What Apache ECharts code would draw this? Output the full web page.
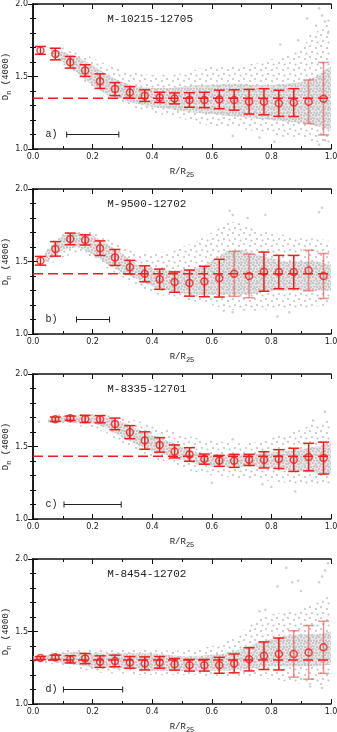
<!DOCTYPE html>
<html>
<head>
<meta charset="utf-8">
<script src="https://cdn.jsdelivr.net/npm/echarts@6.0.0/dist/echarts.min.js"></script>
<style>
  html, body { margin: 0; padding: 0; background: #fff; }
  #chart { width: 337px; height: 732px; }
</style>
</head>
<body>
<div id="chart"></div>
<script>
// ---- data ----
var panelNames = ['M-10215-12705', 'M-9500-12702', 'M-8335-12701', 'M-8454-12702'];
var panelLetters = ['a)', 'b)', 'c)', 'd)'];

// binned profiles (R/R25, Dn(4000), error)
var binsA = [0.025,0.075,0.125,0.175,0.225,0.275,0.325,0.375,0.425,0.475,0.525,0.575,0.625,0.675,0.725,0.775,0.825,0.875,0.925,0.975];
var valsA = [1.68,1.655,1.598,1.541,1.468,1.413,1.39,1.368,1.356,1.349,1.338,1.338,1.342,1.338,1.326,1.326,1.315,1.32,1.326,1.347];
var errsA = [0.027,0.04,0.04,0.04,0.05,0.045,0.04,0.04,0.035,0.038,0.05,0.053,0.064,0.07,0.085,0.09,0.09,0.096,0.15,0.25];

var binsB = binsA;
var valsB = [1.505,1.587,1.656,1.649,1.592,1.528,1.461,1.415,1.378,1.358,1.351,1.362,1.385,1.415,1.40,1.43,1.427,1.427,1.438,1.40];
var errsB = [0.03,0.05,0.04,0.035,0.05,0.055,0.047,0.055,0.07,0.07,0.09,0.105,0.13,0.155,0.15,0.135,0.115,0.115,0.14,0.155];

var binsC = [0.075,0.125,0.175,0.225,0.275,0.325,0.375,0.425,0.475,0.525,0.575,0.625,0.675,0.725,0.775,0.825,0.875,0.925,0.975];
var valsC = [1.688,1.695,1.69,1.688,1.656,1.599,1.541,1.511,1.466,1.445,1.413,1.401,1.401,1.408,1.408,1.413,1.408,1.427,1.42];
var errsC = [0.015,0.015,0.025,0.025,0.04,0.045,0.06,0.05,0.045,0.047,0.035,0.038,0.045,0.038,0.056,0.065,0.08,0.095,0.11];

var binsD = binsA;
var valsD = [1.317,1.322,1.308,1.313,1.292,1.297,1.287,1.28,1.287,1.274,1.267,1.267,1.267,1.28,1.308,1.333,1.345,1.345,1.356,1.391];
var errsD = [0.01,0.015,0.025,0.035,0.04,0.04,0.04,0.045,0.04,0.04,0.04,0.04,0.055,0.065,0.08,0.095,0.11,0.16,0.185,0.18];

// reference levels (dashed lines)
var refLevels = [1.35, 1.415, 1.433, 1.303];

// scale bars: [start, end, level]
var scaleBars = [[0.113, 0.288, 1.10], [0.146, 0.257, 1.10], [0.104, 0.296, 1.10], [0.102, 0.301, 1.10]];

// pixel clouds: outer (sparse) and inner (dense) envelopes
var cloudXA = [0.06,0.1,0.15,0.2,0.25,0.3,0.35,0.4,0.45,0.5,0.55,0.6,0.65,0.7,0.75,0.8,0.85,0.9,0.95,1.0];
var outerLoA = [1.65,1.58,1.50,1.42,1.35,1.31,1.28,1.25,1.23,1.21,1.18,1.16,1.15,1.14,1.12,1.10,1.08,1.07,1.05,1.04];
var outerHiA = [1.70,1.70,1.67,1.63,1.58,1.55,1.52,1.51,1.51,1.52,1.55,1.57,1.57,1.58,1.59,1.62,1.64,1.70,1.80,1.95];
var innerLoA = [1.66,1.60,1.52,1.44,1.37,1.34,1.31,1.29,1.28,1.26,1.25,1.24,1.23,1.22,1.21,1.20,1.19,1.18,1.16,1.13];
var innerHiA = [1.69,1.67,1.635,1.58,1.51,1.46,1.43,1.42,1.42,1.43,1.44,1.44,1.45,1.45,1.44,1.44,1.45,1.46,1.50,1.57];

var cloudXB = [0.04,0.1,0.15,0.2,0.25,0.3,0.35,0.4,0.45,0.5,0.55,0.6,0.65,0.7,0.75,0.8,0.85,0.9,0.95,1.0];
var outerLoB = [1.46,1.53,1.56,1.52,1.45,1.39,1.33,1.28,1.26,1.24,1.22,1.20,1.17,1.16,1.16,1.17,1.17,1.18,1.19,1.20];
var outerHiB = [1.60,1.70,1.72,1.71,1.66,1.60,1.56,1.55,1.57,1.60,1.64,1.70,1.78,1.76,1.72,1.70,1.68,1.66,1.66,1.64];
var innerLoB = [1.49,1.58,1.60,1.55,1.48,1.42,1.38,1.33,1.30,1.28,1.27,1.27,1.27,1.27,1.28,1.30,1.30,1.30,1.30,1.30];
var innerHiB = [1.56,1.68,1.70,1.68,1.62,1.55,1.48,1.45,1.44,1.44,1.45,1.50,1.57,1.58,1.55,1.52,1.50,1.50,1.50,1.48];

var cloudXC = [0.05,0.1,0.15,0.2,0.25,0.3,0.35,0.4,0.45,0.5,0.55,0.6,0.65,0.7,0.75,0.8,0.85,0.9,0.95,1.0];
var outerLoC = [1.65,1.65,1.64,1.63,1.59,1.52,1.47,1.42,1.39,1.35,1.32,1.30,1.29,1.28,1.27,1.26,1.25,1.24,1.23,1.25];
var outerHiC = [1.70,1.73,1.73,1.73,1.72,1.70,1.68,1.64,1.62,1.58,1.56,1.54,1.53,1.52,1.53,1.56,1.59,1.62,1.66,1.70];
var innerLoC = [1.66,1.67,1.66,1.66,1.63,1.56,1.51,1.47,1.44,1.41,1.38,1.36,1.36,1.36,1.36,1.35,1.34,1.33,1.32,1.31];
var innerHiC = [1.69,1.71,1.71,1.71,1.70,1.67,1.62,1.58,1.54,1.50,1.46,1.44,1.44,1.44,1.45,1.46,1.47,1.48,1.50,1.52];

var cloudXD = [0.0,0.05,0.1,0.15,0.2,0.25,0.3,0.35,0.4,0.45,0.5,0.55,0.6,0.65,0.7,0.75,0.8,0.85,0.9,0.95,1.0];
var outerLoD = [1.29,1.28,1.26,1.24,1.22,1.21,1.21,1.20,1.20,1.20,1.20,1.20,1.19,1.19,1.19,1.18,1.17,1.15,1.14,1.13,1.13];
var outerHiD = [1.34,1.35,1.37,1.38,1.38,1.38,1.38,1.38,1.38,1.37,1.37,1.38,1.40,1.43,1.50,1.58,1.62,1.63,1.66,1.70,1.75];
var innerLoD = [1.30,1.30,1.28,1.27,1.25,1.25,1.24,1.24,1.23,1.23,1.23,1.23,1.23,1.23,1.24,1.25,1.26,1.26,1.26,1.26,1.27];
var innerHiD = [1.33,1.34,1.35,1.36,1.35,1.35,1.35,1.35,1.35,1.34,1.33,1.33,1.34,1.35,1.38,1.42,1.45,1.47,1.48,1.48,1.50];

// stray pixels outside the envelopes
var strayA = [[0.96,1.97],[0.97,1.92],[0.98,1.88],[0.95,1.85],[0.99,1.80],[0.93,1.78],[0.89,1.75],[0.83,1.72],[0.76,1.08],[0.81,1.05],[0.96,1.03],[0.98,1.06],[0.67,1.09],[0.92,1.90]];
var strayB = [[0.66,1.85],[0.67,1.82],[0.78,1.82],[0.97,1.87],[0.96,1.84],[0.64,1.16],[0.67,1.15],[0.82,1.12],[0.86,1.15],[0.72,1.80]];
var strayC = [[0.02,1.67],[0.8,1.22],[0.77,1.24],[0.88,1.19],[0.94,1.68],[0.98,1.74],[0.67,1.55],[0.6,1.25]];
var strayD = [[0.82,1.81],[0.85,1.94],[0.87,1.84],[0.89,1.85],[0.99,1.97],[0.98,1.92],[0.97,1.88],[0.96,1.84],[0.76,1.64],[0.78,1.65],[0.93,1.12],[0.97,1.11],[0.9,1.78]];

// ---- layout ----
var panels = [
  {bins: binsA, vals: valsA, errs: errsA, cx: cloudXA, oLo: outerLoA, oHi: outerHiA, iLo: innerLoA, iHi: innerHiA, stray: strayA},
  {bins: binsB, vals: valsB, errs: errsB, cx: cloudXB, oLo: outerLoB, oHi: outerHiB, iLo: innerLoB, iHi: innerHiB, stray: strayB},
  {bins: binsC, vals: valsC, errs: errsC, cx: cloudXC, oLo: outerLoC, oHi: outerHiC, iLo: innerLoC, iHi: innerHiC, stray: strayC},
  {bins: binsD, vals: valsD, errs: errsD, cx: cloudXD, oLo: outerLoD, oHi: outerHiD, iLo: innerLoD, iHi: innerHiD, stray: strayD}
];
var tops = [4, 189, 374, 559];
var gLeft = 33, gWidth = 298, gHeight = 145;
var RED = '#f21c1c', RED_LIGHT = 'rgba(240,70,70,0.6)', GRAY = '#c3c3c3';
var MONO = 'Liberation Mono';

function dotTile(size, dots, bg) {
  var c = document.createElement('canvas');
  c.width = size; c.height = size;
  var ctx = c.getContext('2d');
  if (bg) { ctx.fillStyle = bg; ctx.fillRect(0, 0, size, size); }
  ctx.fillStyle = GRAY;
  dots.forEach(function (d) {
    ctx.beginPath(); ctx.arc(d[0], d[1], 1.1, 0, Math.PI * 2); ctx.fill();
  });
  return c;
}
var densePattern = {image: dotTile(6, [[1, 1], [4, 2], [2, 4.5], [5, 5]], 'rgba(205,205,205,0.45)'), repeat: 'repeat'};
var sparsePattern = {image: dotTile(11, [[2, 2], [8, 4], [4, 8], [9.5, 9.5]], null), repeat: 'repeat'};

function bandRender(xs, lo, hi, fill) {
  return function (params, api) {
    var pts = [];
    for (var i = 0; i < xs.length; i++) pts.push(api.coord([xs[i], hi[i]]));
    for (var j = xs.length - 1; j >= 0; j--) pts.push(api.coord([xs[j], lo[j]]));
    return {type: 'polygon', shape: {points: pts}, style: {fill: fill}};
  };
}

function errRender(params, api) {
  var x = api.value(0), y = api.value(1), e = api.value(2);
  var t = api.coord([x, y + e]), b = api.coord([x, y - e]);
  var cap = 5.5;
  var col = e >= 0.14 ? RED_LIGHT : RED;
  var st = {stroke: col, lineWidth: 1.5};
  return {type: 'group', children: [
    {type: 'line', shape: {x1: t[0], y1: t[1], x2: b[0], y2: b[1]}, style: st},
    {type: 'line', shape: {x1: t[0] - cap, y1: t[1], x2: t[0] + cap, y2: t[1]}, style: st},
    {type: 'line', shape: {x1: b[0] - cap, y1: b[1], x2: b[0] + cap, y2: b[1]}, style: st}
  ]};
}

function barRender(params, api) {
  var p0 = api.coord([api.value(0), api.value(2)]);
  var p1 = api.coord([api.value(1), api.value(2)]);
  var st = {stroke: '#222', lineWidth: 1};
  return {type: 'group', children: [
    {type: 'line', shape: {x1: p0[0], y1: p0[1], x2: p1[0], y2: p1[1]}, style: st},
    {type: 'line', shape: {x1: p0[0], y1: p0[1] - 3, x2: p0[0], y2: p0[1] + 3}, style: st},
    {type: 'line', shape: {x1: p1[0], y1: p1[1] - 3, x2: p1[0], y2: p1[1] + 3}, style: st}
  ]};
}

var grids = [], xAxes = [], yAxes = [], series = [], titles = [];
var axisLine = {lineStyle: {color: '#111', width: 1.5}};
var tick = {show: true, inside: true, length: 5, lineStyle: {color: '#111'}};
var labelStyle = {color: '#222', fontSize: 8, fontFamily: 'DejaVu Sans'};
var subRich = {
  m: {fontFamily: MONO, fontSize: 9, color: '#222', lineHeight: 14},
  s: {fontFamily: MONO, fontSize: 7, color: '#222', lineHeight: 7, verticalAlign: 'bottom'}
};

panels.forEach(function (p, i) {
  grids.push({left: gLeft, top: tops[i], width: gWidth, height: gHeight, containLabel: false, outerBoundsMode: 'none'});
  xAxes.push({
    gridIndex: i, type: 'value', min: 0, max: 1, interval: 0.2, position: 'bottom',
    axisLine: axisLine, axisTick: tick, minorTick: {show: true, splitNumber: 2, length: 3, lineStyle: {color: '#111'}},
    splitLine: {show: false}, minorSplitLine: {show: false},
    axisLabel: Object.assign({margin: 4, formatter: function (v) { return v.toFixed(1); }}, labelStyle),
    name: '{m|R/R}{s|25}', nameLocation: 'middle', nameGap: 16, nameMoveOverlap: false,
    nameTextStyle: {rich: subRich}
  });
  xAxes.push({
    gridIndex: i, type: 'value', min: 0, max: 1, interval: 0.2, position: 'top',
    axisLine: axisLine, axisTick: tick, minorTick: {show: true, splitNumber: 2, length: 3, lineStyle: {color: '#111'}},
    splitLine: {show: false}, axisLabel: {show: false}
  });
  yAxes.push({
    gridIndex: i, type: 'value', min: 1, max: 2, interval: 0.5, position: 'left',
    axisLine: axisLine, axisTick: tick, minorTick: {show: true, splitNumber: 5, length: 3, lineStyle: {color: '#111'}},
    splitLine: {show: false},
    axisLabel: Object.assign({margin: 5, formatter: function (v) { return v.toFixed(1); }}, labelStyle),
    name: '{m|D}{s|n}{m| (4000)}', nameLocation: 'middle', nameGap: 20, nameRotate: 90, nameMoveOverlap: false,
    nameTextStyle: {rich: subRich}
  });
  yAxes.push({
    gridIndex: i, type: 'value', min: 1, max: 2, interval: 0.5, position: 'right',
    axisLine: axisLine, axisTick: tick, minorTick: {show: true, splitNumber: 5, length: 3, lineStyle: {color: '#111'}},
    splitLine: {show: false}, axisLabel: {show: false}
  });

  var xi = i * 2, yi = i * 2;
  series.push({type: 'custom', xAxisIndex: xi, yAxisIndex: yi, silent: true, z: 1,
    renderItem: bandRender(p.cx, p.oLo, p.oHi, sparsePattern), data: [[0.5, 1.5]]});
  series.push({type: 'custom', xAxisIndex: xi, yAxisIndex: yi, silent: true, z: 2,
    renderItem: bandRender(p.cx, p.iLo, p.iHi, densePattern), data: [[0.5, 1.5]]});
  series.push({type: 'scatter', xAxisIndex: xi, yAxisIndex: yi, silent: true, z: 2,
    symbolSize: 2.5, itemStyle: {color: GRAY}, data: p.stray});
  series.push({type: 'line', xAxisIndex: xi, yAxisIndex: yi, silent: true, z: 3, symbol: 'none',
    lineStyle: {color: RED, width: 1.5, type: [10, 5]}, data: [[0, refLevels[i]], [1, refLevels[i]]]});
  series.push({type: 'custom', xAxisIndex: xi, yAxisIndex: yi, silent: true, z: 4,
    renderItem: errRender,
    data: p.bins.map(function (b, k) { return [b, p.vals[k], p.errs[k]]; })});
  series.push({type: 'scatter', xAxisIndex: xi, yAxisIndex: yi, silent: true, z: 5,
    symbol: 'circle', symbolSize: 7,
    itemStyle: {color: 'rgba(255,255,255,0)', borderColor: RED, borderWidth: 1.5},
    data: p.bins.map(function (b, k) { return [b, p.vals[k]]; })});
  series.push({type: 'custom', xAxisIndex: xi, yAxisIndex: yi, silent: true, z: 5,
    renderItem: barRender, data: [scaleBars[i]]});

  titles.push({text: panelNames[i], left: gLeft + 0.249 * gWidth, top: tops[i] + 10, padding: 0,
    textStyle: {fontFamily: MONO, fontSize: 11, fontWeight: 'normal', color: '#222'}});
  titles.push({text: panelLetters[i], left: gLeft + 0.042 * gWidth, top: tops[i] + 125, padding: 0,
    textStyle: {fontFamily: MONO, fontSize: 10, fontWeight: 'normal', color: '#222'}});
});

var chart = echarts.init(document.getElementById('chart'), null, {renderer: 'canvas'});
chart.setOption({
  animation: false,
  title: titles,
  grid: grids,
  xAxis: xAxes,
  yAxis: yAxes,
  series: series
});
</script>
</body>
</html>
